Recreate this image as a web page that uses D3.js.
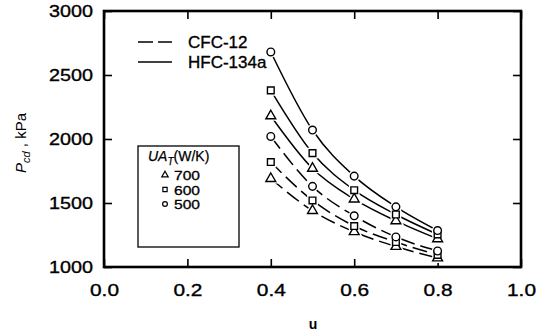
<!DOCTYPE html>
<html>
<head>
<meta charset="utf-8">
<script src="https://cdn.jsdelivr.net/npm/d3@7"></script>
<style>
  body { margin: 0; background: #fff; }
  svg { display: block; font-family: "Liberation Sans", Arial, sans-serif; }
</style>
</head>
<body>
<svg id="chart" width="540" height="336"></svg>
<script>
// data
const uValues = [0.4, 0.5, 0.6, 0.7, 0.8];
const xTicks = [0.0, 0.2, 0.4, 0.6, 0.8, 1.0];
const yTicks = [1000, 1500, 2000, 2500, 3000];
const uaValues = [700, 600, 500];
const hfc700 = [2180, 1770, 1530, 1360, 1220];
const hfc600 = [2380, 1890, 1600, 1410, 1255];
const hfc500 = [2680, 2070, 1710, 1470, 1285];
const cfc700 = [1690, 1440, 1275, 1160, 1070];
const cfc600 = [1820, 1520, 1320, 1195, 1095];
const cfc500 = [2020, 1630, 1400, 1235, 1125];

const series = [
  { name: 'CFC-12', ua: 700, values: cfc700, dashed: true },
  { name: 'CFC-12', ua: 600, values: cfc600, dashed: true },
  { name: 'CFC-12', ua: 500, values: cfc500, dashed: true },
  { name: 'HFC-134a', ua: 700, values: hfc700, dashed: false },
  { name: 'HFC-134a', ua: 600, values: hfc600, dashed: false },
  { name: 'HFC-134a', ua: 500, values: hfc500, dashed: false }
];

const svg = d3.select('#chart');
const plotLeft = 104, plotRight = 521, plotTop = 11, plotBottom = 267;

const x = d3.scaleLinear().domain([0, 1]).range([plotLeft, plotRight]);
const y = d3.scaleLinear().domain([1000, 3000]).range([plotBottom, plotTop]);

/* symbols per UA value */
const symbolFor = ua => ua === 700 ? d3.symbolTriangle : (ua === 600 ? d3.symbolSquare : d3.symbolCircle);
const sizeFor = ua => ua === 700 ? 42 : (ua === 600 ? 45 : 46);

/* axes, ticks inward, mirrored */
svg.append('g')
  .attr('transform', 'translate(0,' + plotBottom + ')')
  .call(d3.axisBottom(x).tickValues(xTicks).tickSize(-8).tickFormat(d3.format('.1f')))
  .call(g => g.select('.domain').remove())
  .call(g => g.selectAll('.tick line').attr('stroke-width', 1.6))
  .call(g => g.selectAll('.tick text')
    .attr('y', 17).attr('font-size', 17)
    .attr('textLength', 29).attr('lengthAdjust', 'spacingAndGlyphs')
    .attr('stroke', '#000').attr('stroke-width', 0.35)
    .attr('font-family', '"Liberation Sans", Arial, sans-serif').attr('fill', '#000'));

svg.append('g')
  .attr('transform', 'translate(0,' + plotTop + ')')
  .call(d3.axisTop(x).tickValues(xTicks).tickSize(-8).tickFormat(''))
  .call(g => g.select('.domain').remove())
  .call(g => g.selectAll('.tick line').attr('stroke-width', 1.6));

svg.append('g')
  .attr('transform', 'translate(' + plotLeft + ',0)')
  .call(d3.axisLeft(y).tickValues(yTicks).tickSize(-8).tickFormat(d3.format('d')))
  .call(g => g.select('.domain').remove())
  .call(g => g.selectAll('.tick line').attr('stroke-width', 1.6))
  .call(g => g.selectAll('.tick text')
    .attr('x', -11).attr('font-size', 17)
    .attr('textLength', 44).attr('lengthAdjust', 'spacingAndGlyphs')
    .attr('stroke', '#000').attr('stroke-width', 0.35)
    .attr('font-family', '"Liberation Sans", Arial, sans-serif').attr('fill', '#000'));

svg.append('g')
  .attr('transform', 'translate(' + plotRight + ',0)')
  .call(d3.axisRight(y).tickValues(yTicks).tickSize(-8).tickFormat(''))
  .call(g => g.select('.domain').remove())
  .call(g => g.selectAll('.tick line').attr('stroke-width', 1.6));

svg.append('rect')
  .attr('x', plotLeft).attr('y', plotTop)
  .attr('width', plotRight - plotLeft).attr('height', plotBottom - plotTop)
  .attr('fill', 'none').attr('stroke', '#000').attr('stroke-width', 2.6);

/* curves */
const line = d3.line()
  .x((d, i) => x(uValues[i]))
  .y(d => y(d))
  .curve(d3.curveMonotoneX);

svg.selectAll('path.curve')
  .data(series)
  .enter()
  .append('path')
  .attr('class', 'curve')
  .attr('d', d => line(d.values))
  .attr('fill', 'none')
  .attr('stroke', '#000')
  .attr('stroke-width', 1.5)
  .attr('stroke-dasharray', d => d.dashed ? '15,6' : null);

/* markers with white halo to make the small gaps */
series.forEach(s => {
  const sym = d3.symbol().type(symbolFor(s.ua)).size(sizeFor(s.ua));
  svg.append('g').selectAll('path.halo')
    .data(s.values)
    .enter()
    .append('path')
    .attr('transform', (d, i) => 'translate(' + x(uValues[i]) + ',' + y(d) + ')')
    .attr('d', sym)
    .attr('fill', '#fff').attr('stroke', '#fff').attr('stroke-width', 4);
});
series.forEach(s => {
  const sym = d3.symbol().type(symbolFor(s.ua)).size(sizeFor(s.ua));
  svg.append('g').selectAll('path.mark')
    .data(s.values)
    .enter()
    .append('path')
    .attr('transform', (d, i) => 'translate(' + x(uValues[i]) + ',' + y(d) + ')')
    .attr('d', sym)
    .attr('fill', '#fff').attr('stroke', '#000').attr('stroke-width', 1.4);
});

/* line style legend */
const styleLegend = [{ label: 'CFC-12', dashed: true }, { label: 'HFC-134a', dashed: false }];
const sl = svg.append('g');
styleLegend.forEach((d, i) => {
  const yy = 42 + i * 20;
  sl.append('line')
    .attr('x1', 138).attr('x2', 172).attr('y1', yy).attr('y2', yy)
    .attr('stroke', '#000').attr('stroke-width', 1.5)
    .attr('stroke-dasharray', d.dashed ? '15,5' : null);
  sl.append('text')
    .attr('x', 188).attr('y', yy + 6)
    .attr('font-size', 17)
    .attr('stroke', '#000').attr('stroke-width', 0.35)
    .text(d.label);
});

/* UA legend box */
const box = svg.append('g');
box.append('rect')
  .attr('x', 138).attr('y', 146).attr('width', 101).attr('height', 101)
  .attr('fill', '#fff').attr('stroke', '#000').attr('stroke-width', 1.3);
const title = box.append('text').attr('x', 148).attr('y', 161).attr('font-size', 14)
  .attr('stroke', '#000').attr('stroke-width', 0.25);
title.append('tspan').attr('font-style', 'italic').text('UA');
title.append('tspan').attr('font-style', 'italic').attr('font-size', 10).attr('dy', 4).text('T');
title.append('tspan').attr('dy', -4).attr('font-size', 14).text('(W/K)');
uaValues.forEach((ua, i) => {
  const yy = 175 + i * 14.5;
  box.append('path')
    .attr('transform', 'translate(165,' + yy + ')')
    .attr('d', d3.symbol().type(symbolFor(ua)).size(18))
    .attr('fill', '#fff').attr('stroke', '#000').attr('stroke-width', 1.2);
  box.append('text')
    .attr('x', 174).attr('y', yy + 5)
    .attr('font-size', 13)
    .attr('textLength', 26).attr('lengthAdjust', 'spacingAndGlyphs')
    .attr('stroke', '#000').attr('stroke-width', 0.3)
    .text(ua);
});

/* axis titles */
svg.append('text')
  .attr('x', 313).attr('y', 329)
  .attr('text-anchor', 'middle').attr('font-size', 14).attr('font-weight', 'bold')
  .text('u');

const yl = svg.append('text')
  .attr('transform', 'translate(26,143) rotate(-90)')
  .attr('text-anchor', 'middle').attr('font-size', 15);
yl.append('tspan').attr('font-style', 'italic').text('P');
yl.append('tspan').attr('font-style', 'italic').attr('font-size', 11).attr('dy', 4).text('cd');
yl.append('tspan').attr('dy', -4).text(' , kPa');
</script>
</body>
</html>
